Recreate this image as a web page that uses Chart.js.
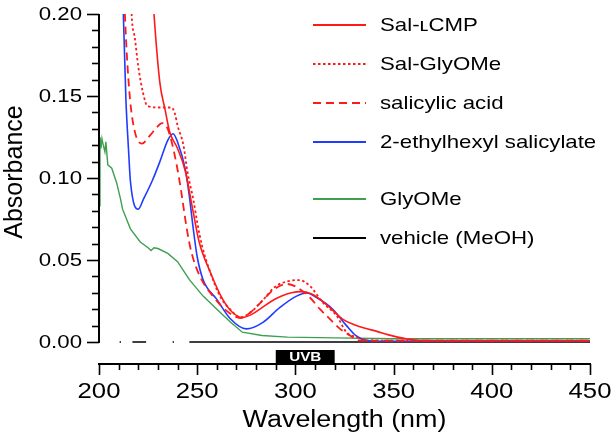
<!DOCTYPE html>
<html>
<head>
<meta charset="utf-8">
<script src="https://cdn.jsdelivr.net/npm/chart.js@4"></script>
<style>
  html, body { margin: 0; padding: 0; background: #fff; }
  #wrap { width: 615px; height: 435px; }
</style>
</head>
<body>
<div id="wrap"><canvas id="myChart" width="615" height="435"></canvas></div>
<script>
// UV spectra, wavelength (nm) vs absorbance

const lcmpNm  = [226, 228, 231, 233.6, 236, 240, 244, 248, 251, 256.5, 263, 268, 273, 278, 283, 288, 293, 298, 303, 308, 311, 317.6, 324, 330, 335, 341.5, 347, 352, 357, 362, 370, 400, 450];
const lcmpAbs = [0.24, 0.20, 0.158, 0.142, 0.128, 0.118, 0.104, 0.079, 0.061, 0.043, 0.026, 0.018, 0.015, 0.017, 0.021, 0.025, 0.028, 0.030, 0.0307, 0.0295, 0.0274, 0.021, 0.014, 0.0105, 0.0085, 0.0065, 0.0045, 0.003, 0.0018, 0.001, 0.0008, 0.0008, 0.0008];

const glyNm  = [215.5, 216.6, 218.3, 220, 222.4, 224.6, 230, 237, 238.7, 240, 243, 245, 248, 250, 252.4, 256.5, 261.6, 266.7, 272, 277, 283, 290, 296, 302, 307.5, 314, 321, 326, 331, 336, 360, 450];
const glyAbs = [0.24, 0.20, 0.185, 0.168, 0.152, 0.144, 0.143, 0.143, 0.139, 0.132, 0.120, 0.104, 0.087, 0.073, 0.059, 0.043, 0.028, 0.020, 0.015, 0.018, 0.025, 0.034, 0.037, 0.0378, 0.034, 0.024, 0.016, 0.006, 0.003, 0.001, 0.0008, 0.0008];

const acidNm  = [212, 213.2, 214, 215.8, 218.3, 221.9, 226, 229.5, 232, 234.6, 237, 239.7, 241.7, 244.7, 247, 251.4, 258, 265, 272, 277, 283, 289, 295.7, 300.6, 307.5, 312.5, 317.6, 322.7, 327.8, 332, 360, 450];
const acidAbs = [0.24, 0.20, 0.179, 0.148, 0.128, 0.121, 0.126, 0.131, 0.1335, 0.131, 0.122, 0.107, 0.093, 0.069, 0.055, 0.040, 0.028, 0.019, 0.0146, 0.018, 0.025, 0.032, 0.0354, 0.0335, 0.027, 0.020, 0.014, 0.008, 0.004, 0.001, 0.0008, 0.0008];

const ehsNm  = [211, 212.4, 213.7, 215, 216, 220, 222.6, 227, 231, 235, 237.7, 240, 244, 246, 248, 250, 253, 260, 267, 275, 283.5, 292, 300.6, 305.7, 311, 319, 326, 331, 336, 340, 450];
const ehsAbs = [0.24, 0.20, 0.148, 0.118, 0.098, 0.081, 0.087, 0.098, 0.110, 0.123, 0.127, 0.122, 0.105, 0.089, 0.069, 0.052, 0.038, 0.026, 0.014, 0.008, 0.012, 0.021, 0.028, 0.0299, 0.027, 0.020, 0.010, 0.0037, 0.001, 0.0005, 0.0005];

const glyOMeNm  = [200, 200.5, 201, 201.5, 202, 203, 203.5, 204.5, 206.5, 209, 211, 212, 216, 221, 225, 226.5, 228, 230, 235, 240, 246, 253, 260, 267, 273, 283, 296, 320, 350, 400, 450];
const glyOMeAbs = [0.083, 0.125, 0.118, 0.124, 0.121, 0.116, 0.122, 0.108, 0.106, 0.097, 0.087, 0.081, 0.069, 0.061, 0.0575, 0.0558, 0.0575, 0.057, 0.054, 0.049, 0.038, 0.028, 0.020, 0.012, 0.006, 0.004, 0.003, 0.0025, 0.002, 0.002, 0.002];

// blank stretches are where the solvent trace drops below zero
const meohNm  = [210.5, 211.2, 212, 217, 224, 230, 237.5, 238.2, 240, 246, 450];
const meohAbs = [0, 0, null, 0, 0, null, 0, 0, null, 0, 0];

const xTicks = [200, 250, 300, 350, 400, 450];
const yTicks = ['0.00', '0.05', '0.10', '0.15', '0.20'];
const uvbBand = [290, 320];

const RED = '#ff1a1a', BLUE = '#1f3cff', GREEN = '#3f9f4f';
const FONT = '"Liberation Sans", Arial, sans-serif';
const SX = 1.17; // text in the figure is a bit wide

const pts = (xs, ys) => xs.map((x, i) => ({ x: x, y: ys[i] }));

function txt(ctx, s, x, y, size, align, base, bold) {
    ctx.save();
    ctx.translate(x, y);
    ctx.scale(SX, 1);
    ctx.font = (bold ? 'bold ' : '') + size + 'px ' + FONT;
    ctx.textAlign = align;
    ctx.textBaseline = base;
    ctx.fillText(s, 0, 0);
    ctx.restore();
}

const axesPlugin = {
    id: 'axesPlugin',
    afterDraw(chart) {
        const ctx = chart.ctx;
        const xs = chart.scales.x, ys = chart.scales.y;
        const y0 = ys.getPixelForValue(0), yTop = ys.getPixelForValue(0.2);
        const xL = xs.getPixelForValue(200), xR = xs.getPixelForValue(450);
        const xAxisY = chart.chartArea.bottom;

        ctx.save();
        ctx.strokeStyle = '#000';
        ctx.fillStyle = '#000';
        ctx.lineWidth = 2;
        ctx.lineCap = 'butt';

        // y axis
        ctx.beginPath();
        ctx.moveTo(xL, y0 + 1);
        ctx.lineTo(xL, yTop);
        ctx.stroke();
        ctx.lineWidth = 1.6;
        for (let v = 0; v <= 20; v++) {
            const py = Math.round(ys.getPixelForValue(v / 100)) + 0.5;
            const len = v % 5 === 0 ? 12 : 7;
            ctx.beginPath();
            ctx.moveTo(xL - len, py);
            ctx.lineTo(xL, py);
            ctx.stroke();
        }
        yTicks.forEach(t => {
            txt(ctx, t, xL - 17, ys.getPixelForValue(parseFloat(t)) + 1, 19, 'right', 'middle');
        });

        // x axis (offset below the plot)
        ctx.lineWidth = 2;
        ctx.beginPath();
        ctx.moveTo(xL - 1, xAxisY);
        ctx.lineTo(xR + 1, xAxisY);
        ctx.stroke();
        ctx.lineWidth = 1.6;
        for (let v = 200; v <= 450; v += 10) {
            const px = Math.round(xs.getPixelForValue(v)) + 0.5;
            const len = v % 50 === 0 ? 11 : 6;
            ctx.beginPath();
            ctx.moveTo(px, xAxisY);
            ctx.lineTo(px, xAxisY + len);
            ctx.stroke();
        }
        xTicks.forEach(t => {
            txt(ctx, String(t), xs.getPixelForValue(t), xAxisY + 28, 22, 'center', 'middle');
        });

        // titles
        txt(ctx, 'Wavelength (nm)', (xL + xR) / 2, 427, 23, 'center', 'alphabetic');
        ctx.save();
        ctx.translate(15, 172);
        ctx.rotate(-Math.PI / 2);
        ctx.font = '25px ' + FONT;
        ctx.textAlign = 'center';
        ctx.textBaseline = 'middle';
        ctx.fillText('Absorbance', 0, 0);
        ctx.restore();

        // UVB band marker
        const b0 = xs.getPixelForValue(uvbBand[0]), b1 = xs.getPixelForValue(uvbBand[1]);
        ctx.fillRect(b0, xAxisY - 14, b1 - b0, 14);
        ctx.fillStyle = '#fff';
        txt(ctx, 'UVB', (b0 + b1) / 2, xAxisY - 6.5, 13, 'center', 'middle', true);
        ctx.fillStyle = '#000';

        // legend, with a gap before the control traces
        chart.data.datasets.forEach((ds, i) => {
            const ry = 25 + i * 39 + (i >= 4 ? 18 : 0);
            ctx.save();
            ctx.strokeStyle = ds.borderColor;
            ctx.lineWidth = 2;
            ctx.setLineDash(ds.borderDash || []);
            ctx.beginPath();
            ctx.moveTo(313, ry);
            ctx.lineTo(366, ry);
            ctx.stroke();
            ctx.restore();
            txt(ctx, ds.label, 380, ry + 1, 19, 'left', 'middle');
        });
        ctx.restore();
    }
};

const ctx = document.getElementById('myChart');
const myChart = new Chart(ctx, {
    type: 'line',
    data: {
        datasets: [
            { label: 'Sal-\u029FCMP', data: pts(lcmpNm, lcmpAbs), borderColor: RED, borderWidth: 1.6 },
            { label: 'Sal-GlyOMe', data: pts(glyNm, glyAbs), borderColor: RED, borderWidth: 1.8, borderDash: [2.5, 2.5] },
            { label: 'salicylic acid', data: pts(acidNm, acidAbs), borderColor: RED, borderWidth: 1.8, borderDash: [8, 5] },
            { label: '2-ethylhexyl salicylate', data: pts(ehsNm, ehsAbs), borderColor: BLUE, borderWidth: 1.6 },
            { label: 'GlyOMe', data: pts(glyOMeNm, glyOMeAbs), borderColor: GREEN, borderWidth: 1.4, cubicInterpolationMode: 'default', tension: 0 },
            { label: 'vehicle (MeOH)', data: pts(meohNm, meohAbs), borderColor: '#000', borderWidth: 1.6, tension: 0 }
        ]
    },
    options: {
        responsive: false,
        animation: false,
        devicePixelRatio: 1,
        spanGaps: false,
        layout: { padding: { left: 99, right: 25, top: 14, bottom: 71 } },
        elements: {
            point: { radius: 0 },
            line: { cubicInterpolationMode: 'monotone', fill: false }
        },
        scales: {
            x: { type: 'linear', min: 200, max: 450, display: false },
            y: { type: 'linear', min: -0.0134, max: 0.2, display: false }
        },
        plugins: {
            legend: { display: false },
            tooltip: { enabled: false }
        }
    },
    plugins: [axesPlugin]
});
</script>
</body>
</html>
